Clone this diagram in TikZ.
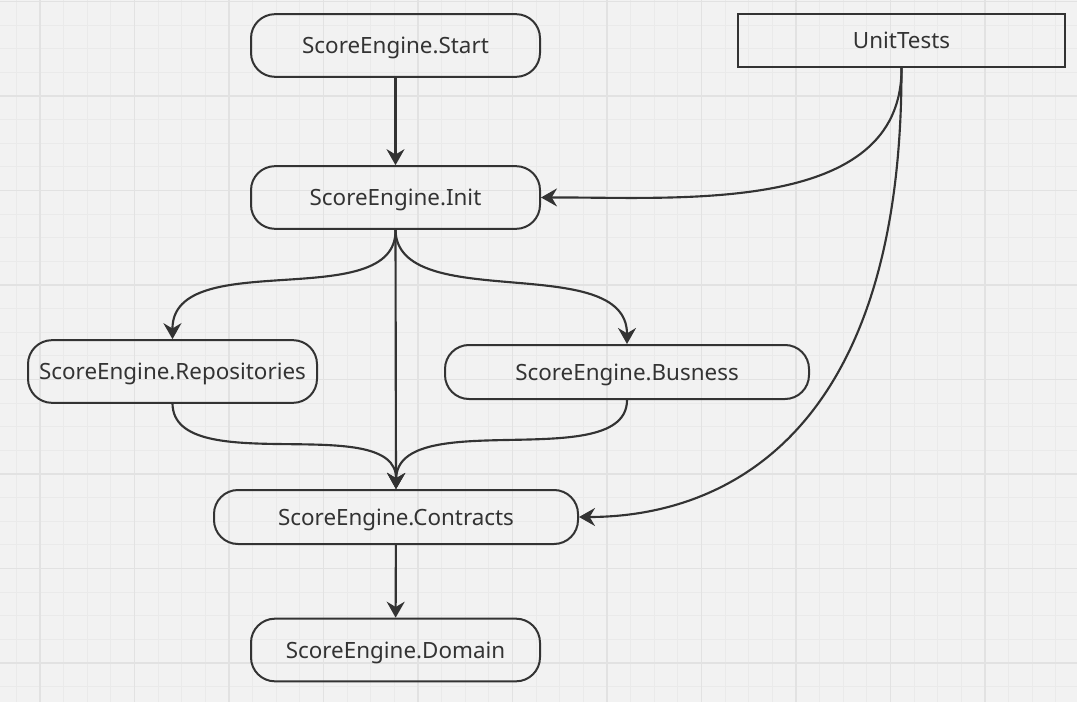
\documentclass[tikz,border=0pt]{standalone}
\usepackage{fontspec}
\setmainfont{Noto Sans}
\usetikzlibrary{arrows.meta}

\def\px{0.75pt}
\definecolor{paper}{HTML}{F2F2F2}
\definecolor{ink}{HTML}{333333}
\definecolor{gridminor}{HTML}{EAEAEA}
\definecolor{gridmajor}{HTML}{E2E2E2}

\tikzset{
  module/.style={draw=ink,line width=1.5pt,rounded corners=18pt,inner sep=0pt,
    minimum width=#1,minimum height=47pt,font=\fontsize{16.8}{20}\selectfont,
    text=ink,text height=12pt,text depth=0pt},
  module/.default=216.75pt,
  flat/.style={module=#1,minimum height=40.5pt},
  suite/.style={draw=ink,line width=1.5pt,inner sep=0pt,minimum width=245pt,
    minimum height=40pt,font=\fontsize{16.8}{20}\selectfont,text=ink,
    text height=12pt,text depth=0pt},
  dep/.style={draw=ink,line width=1.6pt,-{Stealth[length=12pt,width=13.5pt,inset=4pt]}}
}

\begin{document}
\begin{tikzpicture}[x=\px,y=-\px]
% background and grid
\fill [paper] (0,0) rectangle (1077,702);
\useasboundingbox (0,0) rectangle (1077,702);
\begin{scope}
\clip (0,0) rectangle (1077,702);
\foreach \i in {0,...,45}
  \draw [gridminor,line width=0.6pt] ({40+(\i-2)*23.625},0) -- ++(0,702);
\foreach \j in {0,...,30}
  \draw [gridminor,line width=0.6pt] (0,{96+(\j-4)*23.625}) -- ++(1077,0);
\foreach \i in {-1,...,11}
  \draw [gridmajor,line width=0.9pt] ({40+\i*94.5},0) -- ++(0,702);
\foreach \j in {-1,...,7}
  \draw [gridmajor,line width=0.9pt] (0,{96+\j*94.5}) -- ++(1077,0);
\end{scope}

% modules
\node [module] (start) at (395.5,45.5) {ScoreEngine.Start};
\node [module] (init) at (395.5,197.5) {ScoreEngine.Init};
\node [module] (repo) at (172.5,371.5) {ScoreEngine.Repositories};
\node [flat=273pt] (busn) at (627,372) {ScoreEngine.Busness};
\node [flat=273pt] (contr) at (396,517) {ScoreEngine.Contracts};
\node [module] (domain) at (395.5,650) {ScoreEngine.Domain};
\node [suite] (tests) at (901.5,40.5) {UnitTests};

% dependencies
\draw [dep] (start) -- (init);
\draw [dep] (init.south) .. controls (397,315) and (172,245) .. (repo.north);
\draw [dep] (init.south) .. controls (397,315) and (627,250) .. (busn.north);
\draw [dep] (init.south) -- (contr.north);
\draw [dep] (repo.south) .. controls (174,480) and (397,410) .. (contr.north);
\draw [dep] (busn.south) .. controls (627,475) and (397,405) .. (contr.north);
\draw [dep] (contr) -- (domain);
% tests reach two modules
\draw [dep] (tests.south) .. controls (902,215) and (680,197) .. (init.east);
\draw [dep] (tests.south) .. controls (902,440) and (720,517) .. (contr.east);
\end{tikzpicture}
\end{document}
